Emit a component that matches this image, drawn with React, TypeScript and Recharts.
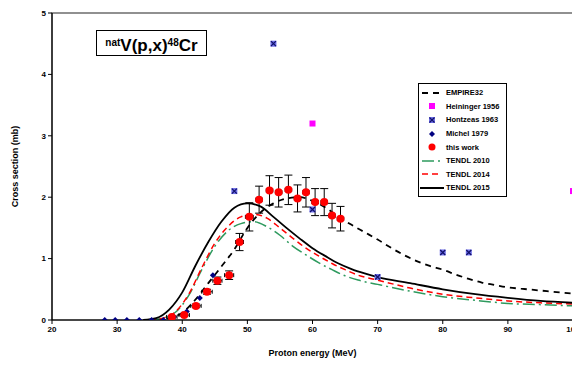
import {
  ComposedChart,
  ErrorBar,
  Line,
  ReferenceArea,
  Scatter,
  XAxis,
  YAxis,
} from 'recharts';

// [energy MeV, cross section mb]
const empire32 = [
  [36, 0], [38, 0.03], [40, 0.12], [42, 0.33], [44, 0.6], [46, 0.87], [48, 1.15],
  [50, 1.5], [52, 1.75], [54, 1.9], [56, 1.98], [58, 2.0], [60, 1.94], [62, 1.83],
  [64, 1.68], [66, 1.55], [68, 1.43], [70, 1.31], [72, 1.18], [74, 1.06], [76, 0.96],
  [78, 0.88], [80, 0.82], [82, 0.74], [84, 0.67], [86, 0.61], [88, 0.57], [90, 0.53],
  [92, 0.51], [94, 0.49], [96, 0.47], [98, 0.45], [100, 0.43],
];
const tendl2010 = [
  [35, 0], [37, 0.03], [39, 0.13], [41, 0.4], [43, 0.82], [45, 1.2], [47, 1.45],
  [49, 1.57], [51, 1.6], [53, 1.52], [55, 1.38], [57, 1.2], [59, 1.06], [61, 0.93],
  [63, 0.82], [65, 0.72], [67, 0.65], [70, 0.58], [75, 0.47], [80, 0.38], [85, 0.32],
  [90, 0.27], [95, 0.25], [100, 0.23],
];
const tendl2014 = [
  [35, 0], [37, 0.03], [39, 0.14], [41, 0.42], [43, 0.85], [45, 1.25], [47, 1.52],
  [49, 1.68], [51, 1.72], [53, 1.66], [55, 1.5], [57, 1.33], [59, 1.17], [61, 1.04],
  [63, 0.92], [65, 0.82], [67, 0.73], [70, 0.65], [75, 0.52], [80, 0.42], [85, 0.36],
  [90, 0.31], [95, 0.28], [100, 0.26],
];
const tendl2015 = [
  [34, 0], [36, 0.03], [38, 0.17], [40, 0.45], [42, 0.88], [44, 1.27], [46, 1.6],
  [48, 1.83], [50, 1.9], [52, 1.85], [54, 1.68], [56, 1.5], [58, 1.33], [60, 1.17],
  [62, 1.04], [64, 0.92], [66, 0.83], [68, 0.76], [70, 0.7], [75, 0.6], [80, 0.5],
  [85, 0.42], [90, 0.36], [95, 0.31], [100, 0.28],
];
const heininger1956 = [[60, 3.2], [100, 2.1]];
const hontzeas1963 = [[48, 2.1], [54, 4.5], [60, 1.8], [70, 0.7], [80, 1.1], [84, 1.1]];
const michel1979 = [
  [28.1, 0], [29.7, 0], [31.5, 0], [33.4, 0], [35.3, 0], [37.1, 0], [38.7, 0.05],
  [40.7, 0.14], [42.7, 0.36], [44.7, 0.73],
];
// [energy, cross section, dE, dSigma]
const thisWork = [
  [38.4, 0.05, 0.8, 0.02], [40.3, 0.08, 0.8, 0.02], [42.1, 0.23, 0.8, 0.03],
  [43.8, 0.46, 0.8, 0.04], [45.4, 0.64, 0.7, 0.06], [47.2, 0.73, 0.7, 0.07],
  [48.8, 1.27, 0.6, 0.14], [50.3, 1.68, 0.6, 0.23], [51.8, 1.96, 0.5, 0.22],
  [53.4, 2.11, 0.5, 0.24], [54.8, 2.08, 0.5, 0.24], [56.3, 2.12, 0.5, 0.24],
  [57.7, 1.98, 0.5, 0.22], [59.0, 2.08, 0.5, 0.24], [60.4, 1.92, 0.5, 0.22],
  [61.8, 1.92, 0.5, 0.22], [63.0, 1.7, 0.5, 0.2], [64.3, 1.65, 0.5, 0.2],
];
const xTicks = [20, 30, 40, 50, 60, 70, 80, 90, 100];
const yTicks = [0, 1, 2, 3, 4, 5];

const pts = (arr: number[][]) => arr.map(([x, y]) => ({ x, y }));
const thisWorkData = thisWork.map(([x, y, ex, ey]) => ({ x, y, ex, ey }));

const FONT = '"Liberation Sans", Arial, sans-serif';
const GREEN = '#2E9A5E';
const M = { top: 13, right: 7, bottom: 18, left: 22 };

const Square = ({ cx, cy }: any) => (
  <rect x={cx - 3} y={cy - 3} width={6} height={6} fill="#FF00FF" />
);
const CrossBox = ({ cx, cy }: any) => (
  <g>
    <rect x={cx - 3} y={cy - 3} width={6} height={6} fill="#6F6FE8" />
    <path
      d={`M${cx - 2.5},${cy - 2.5}L${cx + 2.5},${cy + 2.5}M${cx + 2.5},${cy - 2.5}L${cx - 2.5},${cy + 2.5}`}
      stroke="#10106A"
      strokeWidth={1.2}
    />
  </g>
);
const Diamond = ({ cx, cy }: any) => (
  <path d={`M${cx},${cy - 3}L${cx + 3},${cy}L${cx},${cy + 3}L${cx - 3},${cy}Z`} fill="#000080" />
);
const Dot = ({ cx, cy }: any) => <circle cx={cx} cy={cy} r={4} fill="#FF0000" />;
const NoMark = () => <g />;

const legendItems = [
  { label: 'EMPIRE32', icon: <line x1={2} y1={6} x2={22} y2={6} stroke="#000" strokeWidth={2} strokeDasharray="6 5" /> },
  { label: 'Heininger 1956', icon: <rect x={9} y={3} width={6} height={6} fill="#FF00FF" /> },
  { label: 'Hontzeas 1963', icon: <CrossBox cx={12} cy={6} /> },
  { label: 'Michel 1979', icon: <Diamond cx={12} cy={6} /> },
  { label: 'this work', icon: <circle cx={12} cy={6} r={3.5} fill="#FF0000" /> },
  { label: 'TENDL 2010', icon: <line x1={2} y1={6} x2={22} y2={6} stroke={GREEN} strokeWidth={1.5} strokeDasharray="12 4 2 4" /> },
  { label: 'TENDL 2014', icon: <line x1={2} y1={6} x2={22} y2={6} stroke="#FF0000" strokeWidth={1.5} strokeDasharray="6 4" /> },
  { label: 'TENDL 2015', icon: <line x1={0} y1={6} x2={24} y2={6} stroke="#000" strokeWidth={2} /> },
];

export default function App() {
  const tick = { fontSize: 8, fontWeight: 700, fill: '#000', fontFamily: FONT };
  const titleStyle = { fontSize: 9, fontWeight: 700, fill: '#000', fontFamily: FONT };
  return (
    <div style={{ margin: -8, position: 'relative', width: 580, height: 368, background: '#fff', fontFamily: FONT }}>
      <ComposedChart width={580} height={368} margin={M}>
        <XAxis
          type="number"
          dataKey="x"
          domain={[20, 100]}
          ticks={xTicks}
          allowDataOverflow
          tick={tick}
          tickSize={4}
          stroke="#000"
          height={30}
          label={{ value: 'Proton energy (MeV)', position: 'bottom', offset: 0, style: titleStyle }}
        />
        <YAxis
          type="number"
          dataKey="y"
          domain={[0, 5]}
          ticks={yTicks}
          allowDataOverflow
          tick={tick}
          tickSize={4}
          stroke="#000"
          width={30}
          label={{ value: 'Cross section (mb)', angle: -90, position: 'center', dx: -22, style: titleStyle }}
        />
        {/* plot frame */}
        <ReferenceArea x1={20} x2={100} y1={0} y2={5} fill="none" stroke="#222" strokeWidth={1.2} ifOverflow="visible" />
        <Line data={pts(empire32)} dataKey="y" type="monotone" stroke="#000" strokeWidth={1.8} strokeDasharray="6 5" dot={false} isAnimationActive={false} />
        <Line data={pts(tendl2010)} dataKey="y" type="monotone" stroke={GREEN} strokeWidth={1.5} strokeDasharray="12 4 2 4" dot={false} isAnimationActive={false} />
        <Line data={pts(tendl2014)} dataKey="y" type="monotone" stroke="#FF0000" strokeWidth={1.5} strokeDasharray="6 4" dot={false} isAnimationActive={false} />
        <Line data={pts(tendl2015)} dataKey="y" type="monotone" stroke="#000" strokeWidth={1.8} dot={false} isAnimationActive={false} />
        <Scatter data={pts(heininger1956)} shape={Square} isAnimationActive={false} />
        <Scatter data={pts(hontzeas1963)} shape={CrossBox} isAnimationActive={false} />
        <Scatter data={pts(michel1979)} shape={Diamond} isAnimationActive={false} />
        {/* error bars first, circles drawn above them */}
        <Scatter data={thisWorkData} shape={NoMark} isAnimationActive={false}>
          <ErrorBar dataKey="ey" direction="y" width={4} stroke="#000" strokeWidth={1} />
          <ErrorBar dataKey="ex" direction="x" width={2} stroke="#000" strokeWidth={1} />
        </Scatter>
        <Scatter data={thisWorkData} shape={Dot} isAnimationActive={false} />
      </ComposedChart>

      <div
        style={{
          position: 'absolute', left: 96, top: 30, width: 109, height: 24, border: '1px solid #000',
          fontWeight: 700, fontSize: 17, lineHeight: '24px', textAlign: 'center', whiteSpace: 'nowrap',
        }}
      >
        <span style={{ fontSize: 10, verticalAlign: 5 }}>nat</span>V(p,x)
        <span style={{ fontSize: 10, verticalAlign: 5 }}>48</span>Cr
      </div>

      <div
        style={{
          position: 'absolute', left: 418, top: 83, width: 87, height: 110, border: '1px solid #000',
          background: '#fff', paddingTop: 2,
        }}
      >
        {legendItems.map((it) => (
          <div key={it.label} style={{ display: 'flex', alignItems: 'center', height: 13.6 }}>
            <svg width={26} height={12} style={{ marginLeft: 1 }}>{it.icon}</svg>
            <span style={{ fontSize: 7.5, fontWeight: 700 }}>{it.label}</span>
          </div>
        ))}
      </div>
    </div>
  );
}
